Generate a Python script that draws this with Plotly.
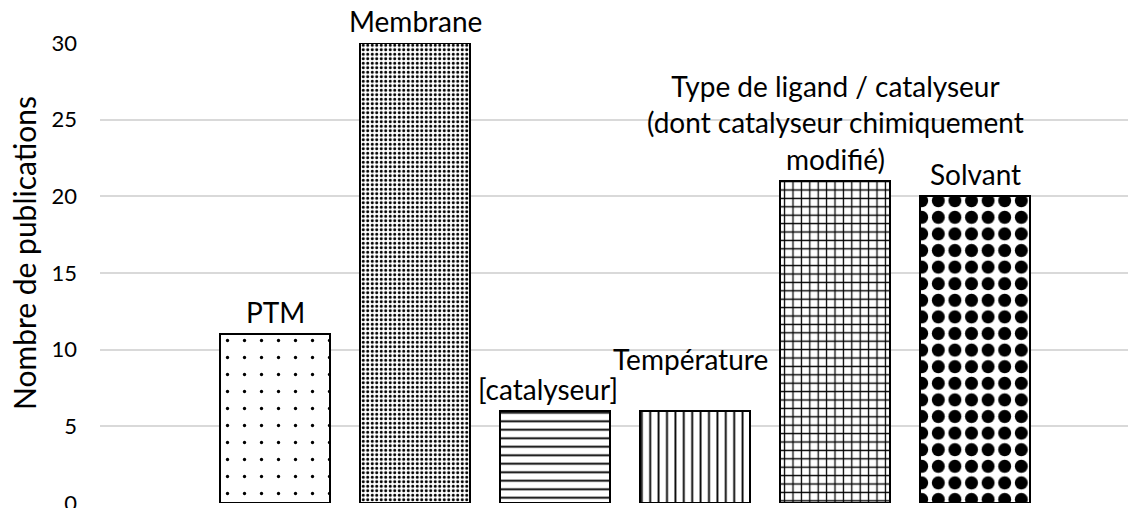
import plotly.graph_objects as go

# ---- data ----
categories = ["PTM", "Membrane", "[catalyseur]", "Température", "Type de ligand", "Solvant"]
labels = ["PTM", "Membrane", "[catalyseur]", "Température",
          "Type de ligand / catalyseur<br>(dont catalyseur chimiquement<br>modifié)", "Solvant"]
publications = [11, 30, 6, 6, 21, 20]
y_ticks = [0, 5, 10, 15, 20, 25, 30]
y_title = "Nombre de publications"

# ---- style ----
FONT = "Lato"
pattern_shapes = [".", ".", "-", "|", "+", "."]
pattern_sizes = [17, 4.5, 8.5, 8.4, 8.4, 16.6]
pattern_solid = [0.03, 0.35, 0.22, 0.22, 0.28, 0.48]
label_yshift = {"Température": 30}
label_xshift = {"[catalyseur]": -7, "Température": -5}

fig = go.Figure()
fig.add_trace(go.Bar(
    x=categories,
    y=publications,
    width=0.786,
    marker=dict(
        color="white",
        line=dict(color="black", width=2),
        pattern=dict(shape=pattern_shapes, size=pattern_sizes,
                     solidity=pattern_solid, fgcolor="black",
                     bgcolor="white", fillmode="replace", fgopacity=1),
    ),
    hoverinfo="skip",
))

for cat, lab, val in zip(categories, labels, publications):
    fig.add_annotation(
        x=cat, y=val, text=lab, showarrow=False,
        xanchor="center", yanchor="bottom",
        yshift=3 + label_yshift.get(cat, 0),
        xshift=label_xshift.get(cat, 0),
        font=dict(family=FONT, size=28, color="black"),
        align="center",
    )

# y-axis title (placed slightly above the plot's vertical centre, as in the reference)
fig.add_annotation(
    xref="paper", yref="paper", x=0, y=0.5435,
    xanchor="center", yanchor="middle", xshift=-76,
    text=y_title, textangle=-90, showarrow=False,
    font=dict(family=FONT, size=30, color="black"),
)

# page body has an 8px margin, compensated here
fig.update_layout(
    width=1136, height=508,
    margin=dict(l=92, r=0, t=35, b=13, autoexpand=False),
    paper_bgcolor="white", plot_bgcolor="white",
    showlegend=False,
    bargap=0,
    font=dict(family=FONT, color="black"),
)
fig.update_xaxes(
    type="category", range=[-1.25, 6.207],
    showticklabels=False, showgrid=False, zeroline=False,
    showline=False, ticks="", automargin=False,
)
fig.update_yaxes(
    range=[0, 30], tickvals=y_ticks,
    showgrid=True, gridcolor="#d9d9d9", gridwidth=1.5,
    zeroline=False, showline=False, automargin=False,
    tickfont=dict(family=FONT, size=22, color="black"),
    ticklabelstandoff=22,
)

fig.write_html("out.html", config={"displayModeBar": False})
